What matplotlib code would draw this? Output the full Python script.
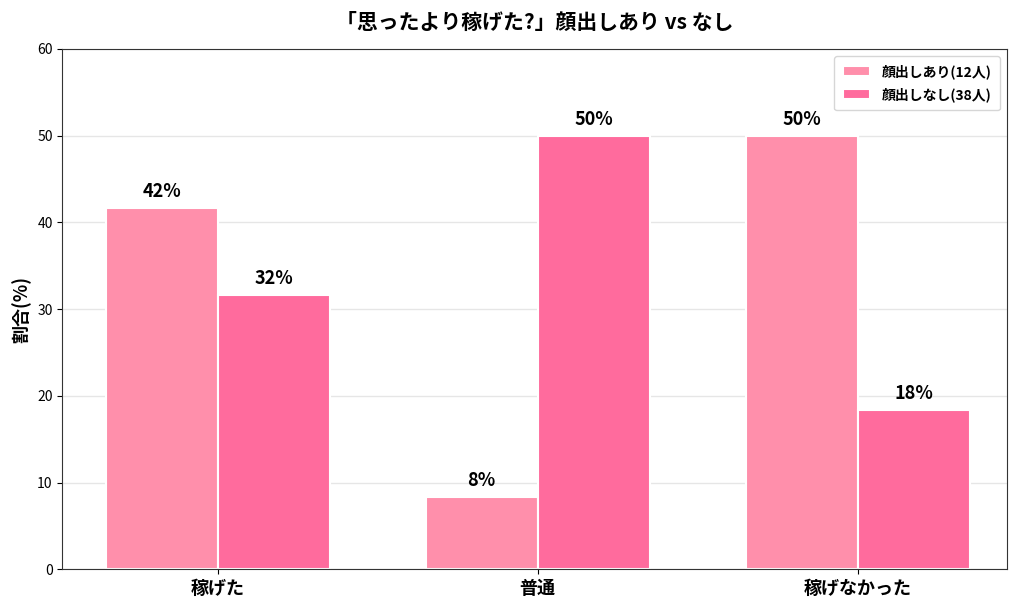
import matplotlib

matplotlib.use("Agg")
import matplotlib.pyplot as plt
import numpy as np

plt.rcParams["font.family"] = ["Noto Sans CJK JP", "DejaVu Sans"]

categories = ["稼げた", "普通", "稼げなかった"]
face_on = [41.7, 8.3, 50.0]
face_off = [31.6, 50.0, 18.4]
series_labels = ["顔出しあり(12人)", "顔出しなし(38人)"]
colors = ["#FF8FAB", "#FF6B9D"]


def main() -> None:
    fig, ax = plt.subplots(figsize=(10.24, 6.11), dpi=100)
    x = np.arange(len(categories))
    w = 0.35

    b1 = ax.bar(x - w / 2, face_on, w, color=colors[0], edgecolor="white", linewidth=1.5, label=series_labels[0])
    b2 = ax.bar(x + w / 2, face_off, w, color=colors[1], edgecolor="white", linewidth=1.5, label=series_labels[1])

    for bars in (b1, b2):
        for bar in bars:
            h = bar.get_height()
            ax.text(bar.get_x() + bar.get_width() / 2, h + 0.8, f"{h:.0f}%",
                    ha="center", va="bottom", fontsize=13, fontweight="bold")

    ax.set_xlim(-0.485, 2.465)
    ax.set_ylim(0, 60)
    ax.set_xticks(x)
    ax.set_xticklabels(categories, fontsize=13, fontweight="bold")
    ax.tick_params(axis="y", labelsize=10)
    for s in ax.spines.values():
        s.set_color("#333333")
    ax.set_ylabel("割合(%)", fontsize=13, fontweight="bold")
    ax.set_title("「思ったより稼げた?」顔出しあり vs なし", fontsize=15, fontweight="bold", pad=14)
    ax.yaxis.grid(True, color="#E6E6E6", linewidth=1)
    ax.set_axisbelow(True)
    ax.legend(loc="upper right", prop={"weight": "bold", "size": 10}, borderpad=0.6, labelspacing=0.6)

    fig.subplots_adjust(left=0.061, right=0.983, top=0.92, bottom=0.068)
    fig.savefig("out.png", dpi=100, facecolor="white")
    plt.close(fig)


if __name__ == "__main__":
    main()
